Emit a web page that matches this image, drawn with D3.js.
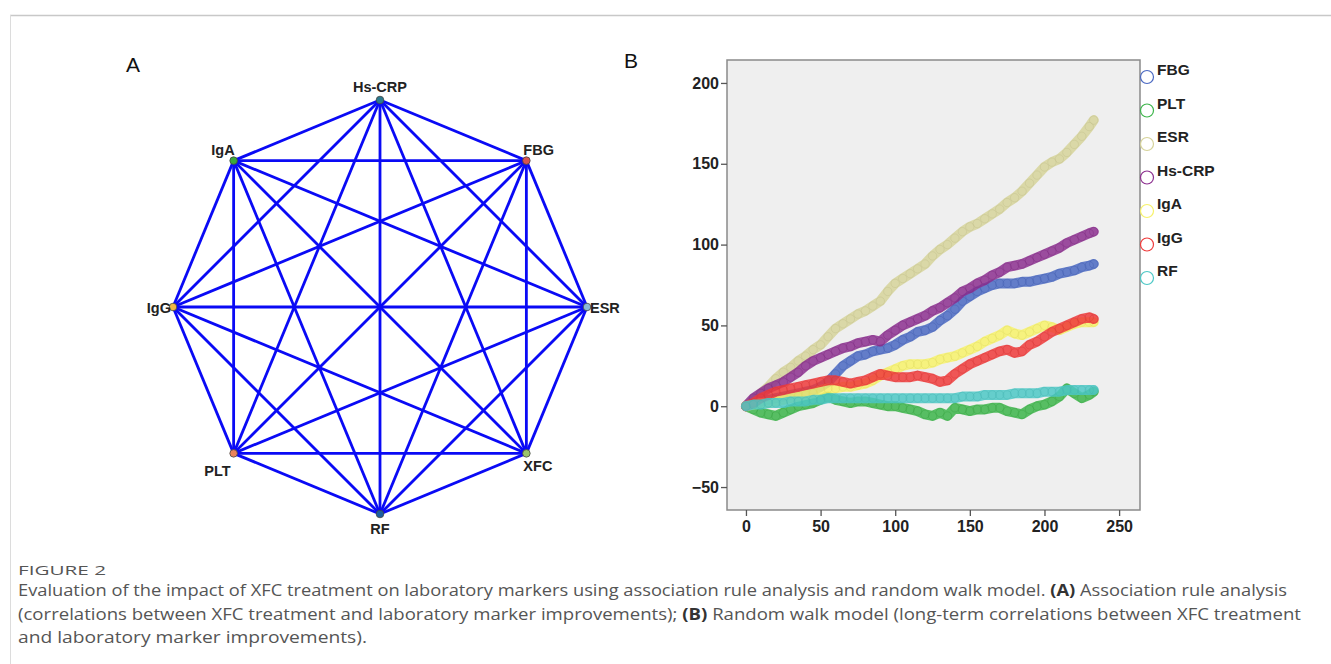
<!DOCTYPE html>
<html>
<head>
<meta charset="utf-8">
<script src="https://cdn.jsdelivr.net/npm/d3@7"></script>
<style>
  body { margin: 0; background: #fff; }
  text { font-family: "Liberation Sans", Arial, sans-serif; }
</style>
</head>
<body>
<div id="chart"></div>
<script>
// ---- data ----
// panel A: nodes of the association network (clockwise from top)
var nodeNames = ["Hs-CRP", "FBG", "ESR", "XFC", "RF", "PLT", "IgG", "IgA"];
var nodeColors = ["#2b7a8e", "#d9534f", "#8ab8d8", "#9bc36b", "#1c5fa0", "#e9835a", "#f2b944", "#3aaa3a"];

// panel B: random walk steps
var steps = [0,5,10,15,20,25,30,35,40,45,50,55,60,65,70,75,80,85,90,95,100,105,110,115,120,125,130,135,140,145,150,155,160,165,170,175,180,185,190,195,200,205,210,215,220,225,230,233];
var FBG   = [0,1,3,4,5,6,7,8,9,10,12,15,20,25,28,31,32,34,35,36,38,41,43,46,47,49,53,56,60,65,68,71,73,75,76,76,76,77,77,78,79,80,82,83,84,86,87,88];
var PLT   = [0,-2,-4,-5,-6,-4,-2,0,1,2,4,6,4,3,2,3,3,2,1,0,0,-1,-2,-3,-5,-6,-4,-6,-1,-2,-3,-2,-2,-1,-1,-3,-4,-5,-2,0,1,3,6,11,8,5,7,9];
var ESR   = [0,4,8,12,17,21,24,28,31,35,38,43,48,51,54,57,59,62,65,71,76,79,82,85,88,93,97,100,104,108,111,113,116,119,122,126,129,133,138,143,148,151,153,157,162,167,173,177];
var HsCRP = [0,5,8,11,13,15,18,21,25,28,30,32,34,36,37,39,40,41,40,44,47,50,52,54,56,59,61,64,67,71,73,76,78,81,83,86,87,88,90,92,94,96,98,101,103,105,107,108];
var IgA   = [0,1,2,2,3,4,5,6,7,8,10,11,11,12,12,13,14,16,19,21,23,25,26,26,26,27,29,30,31,33,35,37,40,42,44,47,45,44,46,48,50,49,47,49,51,52,52,52];
var IgG   = [0,2,5,7,9,10,11,12,13,14,15,16,16,15,14,15,16,18,20,19,18,18,18,19,18,17,15,16,20,23,26,28,30,32,34,35,33,34,38,40,43,46,48,50,52,54,55,54];
var RF    = [0,1,1,2,2,2,3,3,3,4,4,5,5,5,5,5,5,5,5,5,5,5,5,5,5,5,5,5,5,6,6,6,7,7,7,7,8,8,8,8,9,9,9,10,10,10,10,10];

var seriesNames = ["FBG", "PLT", "ESR", "Hs-CRP", "IgA", "IgG", "RF"];
var seriesValues = [FBG, PLT, ESR, HsCRP, IgA, IgG, RF];
var seriesColors = ["#4a68c2", "#3cb54a", "#d6d39a", "#8c2f8f", "#f7f26a", "#ef3b3b", "#4cc8c6"];

var xTicks = [0, 50, 100, 150, 200, 250];
var yTicks = [-50, 0, 50, 100, 150, 200];

var captionTitle = "FIGURE 2";
var captionLines = [
  [["Evaluation of the impact of XFC treatment on laboratory markers using association rule analysis and random walk model. ", false], ["(A)", true], [" Association rule analysis", false]],
  [["(correlations between XFC treatment and laboratory marker improvements); ", false], ["(B)", true], [" Random walk model (long-term correlations between XFC treatment", false]],
  [["and laboratory marker improvements).", false]]
];

// ---- page ----
var W = 1331, H = 664;
var svg = d3.select("#chart").append("svg")
    .attr("width", W)
    .attr("height", H);

// frame lines
svg.append("line").attr("x1", 10).attr("x2", W).attr("y1", 15.5).attr("y2", 15.5)
    .attr("stroke", "#c8c8c8").attr("stroke-width", 1.5);
svg.append("line").attr("x1", 10.5).attr("x2", 10.5).attr("y1", 15).attr("y2", H)
    .attr("stroke", "#dcdcdc").attr("stroke-width", 1);

// ---- panel A ----
svg.append("text").attr("x", 126).attr("y", 72).text("A")
    .style("font-size", "21px").attr("fill", "#111");

var cx = 380, cy = 307, R = 207;
var angle = d3.scaleLinear().domain([0, nodeNames.length]).range([-Math.PI / 2, 1.5 * Math.PI]);
var nodes = nodeNames.map(function (n, i) {
  return { name: n, color: nodeColors[i], x: cx + R * Math.cos(angle(i)), y: cy + R * Math.sin(angle(i)) };
});
var links = [];
for (var i = 0; i < nodes.length; i++)
  for (var j = i + 1; j < nodes.length; j++) links.push([nodes[i], nodes[j]]);

var gA = svg.append("g");
gA.selectAll("line.link").data(links).enter().append("line")
    .attr("class", "link")
    .attr("x1", function (d) { return d[0].x; })
    .attr("y1", function (d) { return d[0].y; })
    .attr("x2", function (d) { return d[1].x; })
    .attr("y2", function (d) { return d[1].y; })
    .attr("stroke", "#0a0af5")
    .attr("stroke-width", 2.8);

gA.selectAll("circle").data(nodes).enter().append("circle")
    .attr("cx", function (d) { return d.x; })
    .attr("cy", function (d) { return d.y; })
    .attr("r", 3.8)
    .attr("fill", function (d) { return d.color; })
    .attr("stroke", "#444").attr("stroke-width", 0.8);

// label placement per node
var labelPos = {
  "Hs-CRP": [0, -8, "middle"],
  "FBG": [-3, -6, "start"],
  "ESR": [3, 5.5, "start"],
  "XFC": [-3, 18, "start"],
  "RF": [0, 20, "middle"],
  "PLT": [-3, 23, "end"],
  "IgG": [-2, 5.5, "end"],
  "IgA": [1, -6, "end"]
};
gA.selectAll("text").data(nodes).enter().append("text")
    .attr("x", function (d) { return d.x + labelPos[d.name][0]; })
    .attr("y", function (d) { return d.y + labelPos[d.name][1]; })
    .attr("text-anchor", function (d) { return labelPos[d.name][2]; })
    .style("font-size", "14.5px").style("font-weight", "bold")
    .attr("fill", "#222")
    .text(function (d) { return d.name; });

// ---- panel B ----
svg.append("text").attr("x", 624).attr("y", 68).text("B")
    .style("font-size", "21px").attr("fill", "#111");

var box = { left: 727, top: 60, right: 1140, bottom: 510 };
var x = d3.scaleLinear().domain([-12.7, 264]).range([box.left, box.right]);
var y = d3.scaleLinear().domain([-64.2, 214.2]).range([box.bottom, box.top]);

svg.append("rect")
    .attr("x", box.left).attr("y", box.top)
    .attr("width", box.right - box.left).attr("height", box.bottom - box.top)
    .attr("fill", "#efefef").attr("stroke", "#8a8a8a").attr("stroke-width", 1.5);

var yAxis = svg.append("g")
    .attr("transform", "translate(" + box.left + ",0)")
    .call(d3.axisLeft(y).tickValues(yTicks).tickSize(6).tickPadding(2));
var xAxis = svg.append("g")
    .attr("transform", "translate(0," + box.bottom + ")")
    .call(d3.axisBottom(x).tickValues(xTicks).tickSize(6).tickPadding(5));
[yAxis, xAxis].forEach(function (a) {
  a.select(".domain").remove();
  a.selectAll("line").attr("stroke", "#555").attr("stroke-width", 1.3);
  a.selectAll("text").style("font-size", "16px").style("font-weight", "bold")
      .style("font-family", "Liberation Sans, Arial, sans-serif").attr("fill", "#222");
});

var line = d3.line()
    .x(function (d, i) { return x(steps[i]); })
    .y(function (d) { return y(d); });

var gB = svg.append("g");
seriesValues.forEach(function (vals, k) {
  var col = seriesColors[k];
  var g = gB.append("g");
  g.append("path")
      .datum(vals)
      .attr("fill", "none")
      .attr("stroke", col)
      .attr("stroke-width", 10)
      .attr("stroke-opacity", 0.85)
      .attr("stroke-linejoin", "round")
      .attr("stroke-linecap", "round")
      .attr("d", line);
  g.selectAll("circle").data(vals).enter().append("circle")
      .attr("cx", function (d, i) { return x(steps[i]); })
      .attr("cy", function (d) { return y(d); })
      .attr("r", 4.2)
      .attr("fill", "none")
      .attr("stroke", d3.color(col).darker(0.3))
      .attr("stroke-opacity", 0.4)
      .attr("stroke-width", 1);
});

// legend
var lg = svg.append("g");
seriesNames.forEach(function (n, k) {
  var ly = 77 + k * 33.5;
  lg.append("circle").attr("cx", 1147).attr("cy", ly).attr("r", 6.5)
      .attr("fill", "none").attr("stroke", seriesColors[k]).attr("stroke-width", 1.2);
  lg.append("text").attr("x", 1157).attr("y", ly - 2).text(n)
      .style("font-size", "15.5px").style("font-weight", "bold").attr("fill", "#222");
});

// ---- caption ----
svg.append("text").attr("x", 18).attr("y", 575).text(captionTitle)
    .style("font-family", "Open Sans, sans-serif").style("font-size", "12px")
    .attr("fill", "#555").attr("textLength", 88).attr("lengthAdjust", "spacingAndGlyphs");

var lineWidths = [1269, 1283, 349];
captionLines.forEach(function (parts, li) {
  var t = svg.append("text").attr("x", 18).attr("y", 596 + li * 23.5)
      .style("font-family", "Open Sans, sans-serif").style("font-size", "16px")
      .attr("fill", "#555")
      .attr("textLength", lineWidths[li]).attr("lengthAdjust", "spacingAndGlyphs");
  parts.forEach(function (p) {
    t.append("tspan").text(p[0])
        .style("font-weight", p[1] ? "bold" : "normal")
        .attr("fill", p[1] ? "#333" : "#555");
  });
});
</script>
</body>
</html>
